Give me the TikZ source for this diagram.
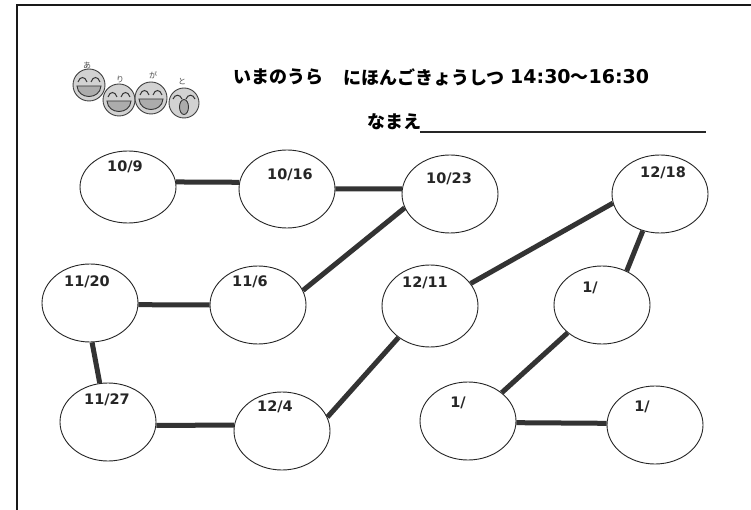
\documentclass[tikz,border=0pt]{standalone}
\usepackage{fontspec}
\setmainfont{DejaVu Sans}
\newfontfamily\jp{Noto Sans CJK JP}
\usetikzlibrary{shapes.geometric}
\begin{document}
\begin{tikzpicture}[x=1pt,y=-1pt,
  day/.style={ellipse, draw=black!85, line width=0.9pt, minimum width=96pt,
    minimum height=78pt, inner sep=0pt},
  date/.style={font=\bfseries\fontsize{14.5}{14.5}\selectfont, inner sep=0pt, text=black!85},
  link/.style={line width=5pt, draw=black!80},
  title/.style={anchor=west, inner sep=0pt, font=\jp\bfseries\fontsize{18}{18}\selectfont},
  clock/.style={anchor=west, inner sep=0pt, font=\bfseries\fontsize{19}{19}\selectfont},
  note/.style={inner sep=0pt, font=\jp\fontsize{8}{8}\selectfont, text=black!70},
  laugh/.pic={
    \fill[gray!35] (0,0) circle (16);
    \draw[black!75, line width=0.9pt] (0,0) circle (16);
    \draw[black!80, line width=1pt] (-11,-3) .. controls (-9,-9) and (-4,-9) .. (-2,-3);
    \draw[black!80, line width=1pt] (2,-3) .. controls (4,-9) and (9,-9) .. (11,-3);
    \filldraw[fill=gray!65, draw=black!80, line width=0.9pt]
      (-12,1) -- (12,1) .. controls (11,15) and (-11,15) .. cycle;
  },
  sing/.pic={
    \fill[gray!35] (0,0) circle (15);
    \draw[black!75, line width=0.9pt] (0,0) circle (15);
    \draw[black!80, line width=1pt] (-11,-4) .. controls (-9,-9) and (-4,-9) .. (-2,-4);
    \draw[black!80, line width=1pt] (2,-4) .. controls (4,-9) and (9,-9) .. (11,-4);
    \filldraw[fill=gray!65, draw=black!80, line width=0.9pt] (0,4) ellipse (4.5 and 7.5);
  }]
\useasboundingbox (0,0) rectangle (751,510);
\fill[white] (0,0) rectangle (751,510);

% sheet border
\draw[line width=2.5pt, black!90] (751,5) -- (17,5) -- (17,510);

% singing faces
\pic at (89,85) {laugh};
\pic at (119,100) {laugh};
\pic at (151,98) {laugh};
\pic at (184,103) {sing};
\node[note] (s1) at (87,66) {あ};
\node[note] (s2) at (120,80) {り};
\node[note] (s3) at (153,75) {が};
\node[note] (s4) at (182,82) {と};

% heading
\node[title] (t1) at (233,77) {いまのうら};
\node[title] (t2) at (343,77) {にほんごきょうしつ};
\node[clock] (t3) at (510,77) {14:30{\jp\fontsize{18}{18}\selectfont 〜}16:30};
\node[title] (nm) at (367,122) {なまえ};
\coordinate (u1) at (420,132);
\coordinate (u2) at (706,132);
\draw[line width=1.2pt, black!85] (u1) -- (u2);

% class days
\node[day, minimum height=72pt] (e109) at (128,187) {};
\node[day] (e1016) at (287,189) {};
\node[day] (e1023) at (450,194) {};
\node[day] (e1218) at (660,194) {};
\node[day] (e1120) at (90,303) {};
\node[day] (e116) at (258,305) {};
\node[day, minimum height=82pt] (e1211) at (430,306) {};
\node[day] (e1a) at (602,305) {};
\node[day] (e1127) at (108,422) {};
\node[day] (e124) at (282,431) {};
\node[day] (e1b) at (468,421) {};
\node[day] (e1c) at (655,425) {};

\node[date] (d109) at (125,167) {10/9};
\node[date] (d1016) at (290,175) {10/16};
\node[date] (d1023) at (449,179) {10/23};
\node[date] (d1218) at (663,173) {12/18};
\node[date] (d1120) at (87,282) {11/20};
\node[date] (d116) at (250,282) {11/6};
\node[date] (d1211) at (425,283) {12/11};
\node[date] (d1a) at (590,288) {1/};
\node[date] (d1127) at (107,400) {11/27};
\node[date] (d124) at (275,407) {12/4};
\node[date] (d1b) at (458,403) {1/};
\node[date] (d1c) at (642,407) {1/};

% route
\draw[link] (e109.6) -- (e1016.172);
\draw[link] (e1016.0) -- (e1023.174);
\draw[link] (e1023.197) -- (e116.18);
\draw[link] (e116.180) -- (e1120.-2);
\draw[link] (e1120.-87) -- (e1127.102);
\draw[link] (e1127.-4) -- (e124.173);
\draw[link] (e124.17) -- (e1211.225);
\draw[link] (e1211.29) -- (e1218.191);
\draw[link] (e1218.245) -- (e1a.54);
\draw[link] (e1a.219) -- (e1b.40);
\draw[link] (e1b.-2) -- (e1c.178);
\end{tikzpicture}
\end{document}
